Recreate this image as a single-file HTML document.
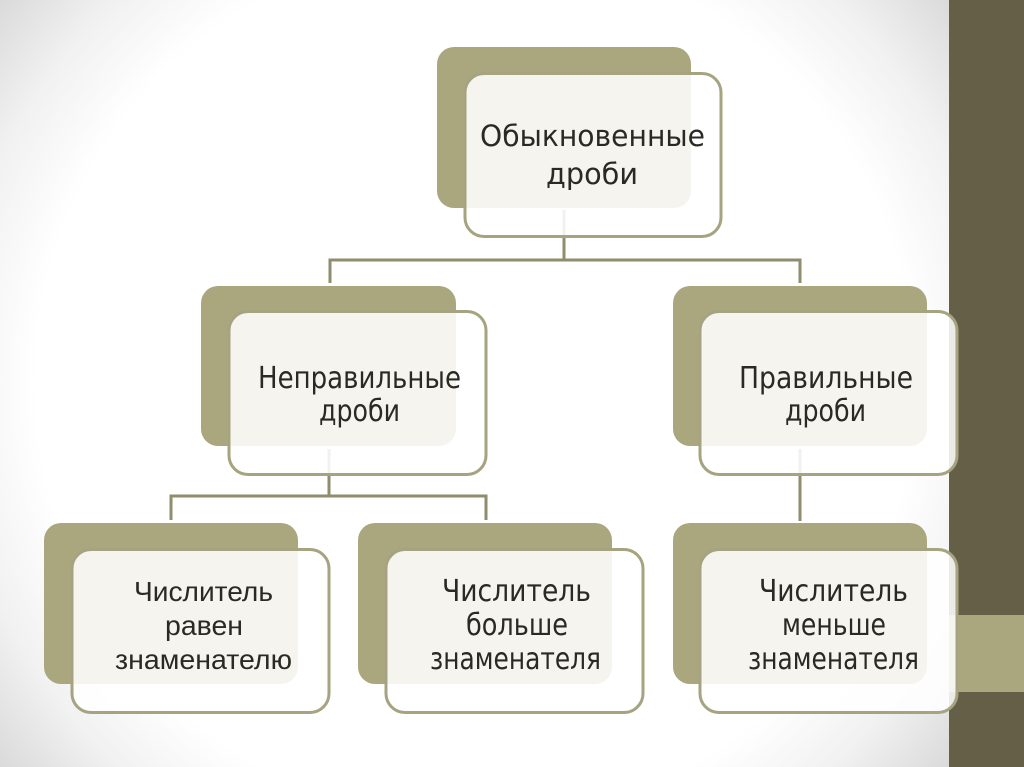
<!DOCTYPE html>
<html lang="ru"><head><meta charset="utf-8"><title>Обыкновенные дроби</title>
<style>html,body{margin:0;padding:0;background:#fff}svg{display:block}text{fill:#2a2a24;text-anchor:start}</style></head>
<body>
<svg width="1024" height="767" viewBox="0 0 1024 767" xmlns="http://www.w3.org/2000/svg">
<defs>
<radialGradient id="bg" gradientUnits="userSpaceOnUse" cx="475" cy="383" r="610">
<stop offset="0.72" stop-color="#ffffff"/><stop offset="0.86" stop-color="#f1f1f1"/><stop offset="1" stop-color="#dadada"/>
</radialGradient>
</defs>
<rect width="950" height="767" fill="url(#bg)"/>
<rect x="949" width="75" height="767" fill="#665f47"/>
<rect x="949" y="615" width="75" height="77" fill="#aaa77f"/>

<g fill="#aaa77f">
<rect x="437" y="47" width="254" height="161" rx="17"/>
<rect x="201" y="286" width="255" height="160" rx="17"/>
<rect x="673" y="286" width="254" height="160" rx="17"/>
<rect x="44" y="523" width="254" height="161" rx="17"/>
<rect x="358" y="523" width="254" height="161" rx="17"/>
<rect x="673" y="523" width="254" height="161" rx="17"/>
</g>

<g stroke="#8f8d6c" stroke-width="3" fill="none">
<path d="M564 210V260M330 283V260H800V283"/>
<path d="M329 449V496M171 520V496H486V520"/>
<path d="M800 449V521"/>
</g>

<g fill="#ffffff" fill-opacity="0.88" stroke="#a6a381" stroke-width="3">
<rect x="465" y="73.500" width="256" height="163" rx="19"/>
<rect x="229" y="311.500" width="257" height="163" rx="19"/>
<rect x="700" y="311.500" width="257" height="163" rx="19"/>
<rect x="72" y="549.500" width="257" height="163" rx="19"/>
<rect x="386" y="549.500" width="257" height="163" rx="19"/>
<rect x="700" y="549.500" width="257" height="163" rx="19"/>
</g>

<g font-family="'DejaVu Sans',sans-serif" font-size="29">
<text x="480" y="146" textLength="225" lengthAdjust="spacingAndGlyphs">Обыкновенные</text>
<text x="546" y="184" textLength="92" lengthAdjust="spacingAndGlyphs">дроби</text>
</g>
<g font-family="'DejaVu Sans',sans-serif" font-size="30">
<text x="258" y="388" textLength="203" lengthAdjust="spacingAndGlyphs">Неправильные</text>
<text x="319" y="421" textLength="81" lengthAdjust="spacingAndGlyphs">дроби</text>
<text x="739" y="388" textLength="174" lengthAdjust="spacingAndGlyphs">Правильные</text>
<text x="785" y="421" textLength="81" lengthAdjust="spacingAndGlyphs">дроби</text>
<text x="442" y="601" textLength="149" lengthAdjust="spacingAndGlyphs">Числитель</text>
<text x="466" y="635" textLength="102" lengthAdjust="spacingAndGlyphs">больше</text>
<text x="430" y="669" textLength="171" lengthAdjust="spacingAndGlyphs">знаменателя</text>
<text x="759" y="601" textLength="149" lengthAdjust="spacingAndGlyphs">Числитель</text>
<text x="782" y="635" textLength="104" lengthAdjust="spacingAndGlyphs">меньше</text>
<text x="748" y="669" textLength="171" lengthAdjust="spacingAndGlyphs">знаменателя</text>
</g>
<g font-family="'Liberation Sans',sans-serif" font-size="28">
<text x="134" y="601" textLength="139" lengthAdjust="spacingAndGlyphs">Числитель</text>
<text x="165" y="635" textLength="78" lengthAdjust="spacingAndGlyphs">равен</text>
<text x="115" y="669" textLength="177" lengthAdjust="spacingAndGlyphs">знаменателю</text>
</g>
</svg>
</body></html>
